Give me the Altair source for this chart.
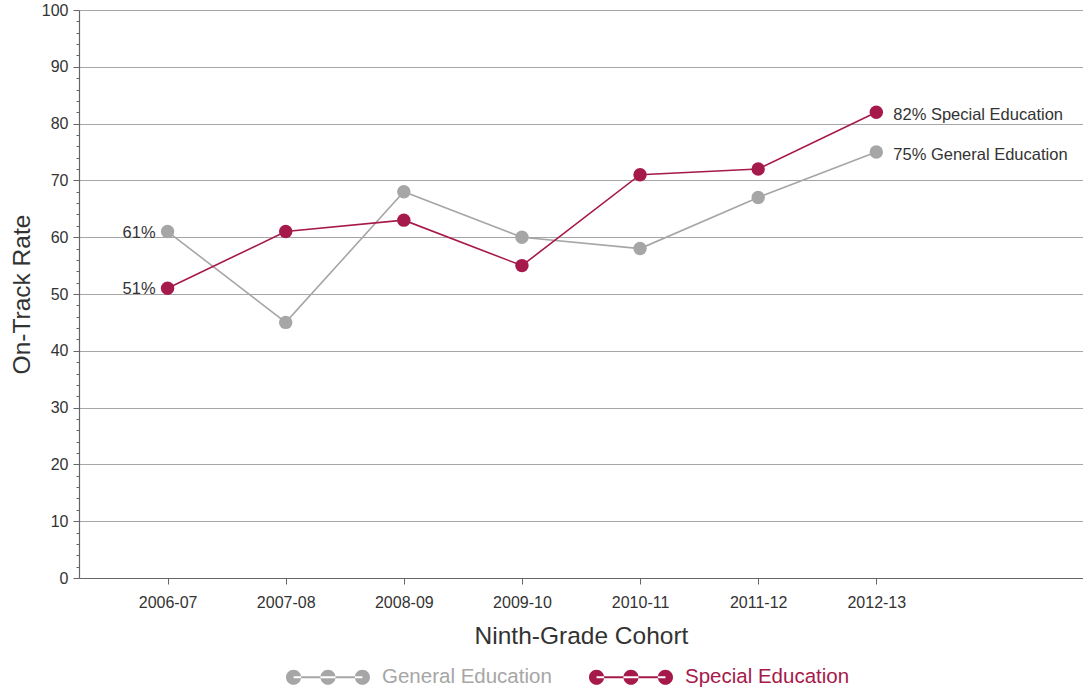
import json
import altair as alt
import pandas as pd

cohorts = ["2006-07", "2007-08", "2008-09", "2009-10", "2010-11", "2011-12", "2012-13"]
general = [61, 45, 68, 60, 58, 67, 75]
special = [51, 61, 63, 55, 71, 72, 82]
series_names = ["General Education", "Special Education"]
colors = ["#a6a6a6", "#a6194b"]

rows = []
for i, c in enumerate(cohorts):
    rows.append(dict(idx=i, cohort=c, series=series_names[0], value=general[i]))
    rows.append(dict(idx=i, cohort=c, series=series_names[1], value=special[i]))
df = pd.DataFrame(rows)

first = df[df.idx == 0].copy()
first["label"] = first["value"].astype(str) + "%"
last = df[df.idx == len(cohorts) - 1].copy()
last["label"] = last["value"].astype(str) + "% " + last["series"]

# legend symbol: line with three dots
r = 0.18
def circ(cx):
    return f"M{cx - r},0A{r},{r},0,1,0,{cx + r},0A{r},{r},0,1,0,{cx - r},0Z"
sym_path = "M-0.82,-0.024L0.82,-0.024L0.82,0.024L-0.82,0.024Z" + circ(-0.82) + circ(0) + circ(0.82)

label_expr = json.dumps(cohorts) + "[datum.value]"

x = alt.X(
    "idx:Q",
    scale=alt.Scale(domain=[-0.75, 7.75], nice=False, zero=False),
    axis=alt.Axis(
        values=list(range(len(cohorts))),
        tickCount=100,
        labelExpr=label_expr,
        grid=False,
        tickSize=6,
        labelPadding=10,
        titlePadding=14,
        labelFontSize=16,
        title="Ninth-Grade Cohort",
    ),
)
y = alt.Y(
    "value:Q",
    scale=alt.Scale(domain=[0, 100], nice=False),
    axis=alt.Axis(
        values=list(range(0, 101, 2)),
        tickCount=200,
        format="d",
        labelExpr="datum.value % 10 === 0 ? datum.label : ''",
        labelOverlap=False,
        labelFlush=False,
        tickSize={"condition": {"test": "datum.value % 10 === 0", "value": 6}, "value": 3},
        gridOpacity={"condition": {"test": "datum.value % 10 === 0 && datum.value > 0", "value": 1}, "value": 0},
        labelPadding=5,
        labelFontSize=16,
        titlePadding=7,
        title="On-Track Rate",
    ),
)

legend = alt.Legend(
    title=None,
    orient="none",
    legendX=207,
    legendY=625,
    direction="horizontal",
    symbolType=sym_path,
    symbolSize=7056,
    symbolStrokeWidth=0,
    symbolOpacity=1,
    labelFontSize=20.5,
    labelOffset=12,
    labelLimit=400,
    columnPadding=37,
    labelColor=alt.ExprRef(expr=f"datum.label === '{series_names[0]}' ? '{colors[0]}' : '{colors[1]}'"),
)
color = alt.Color("series:N", scale=alt.Scale(domain=series_names, range=colors), legend=legend)

base = alt.Chart(df)
lines = base.mark_line(strokeWidth=1.6).encode(x=x, y=y, color=color, detail="series:N")
points = base.mark_point(filled=True, size=180, opacity=1).encode(x=x, y=y, color=color)

left_text = alt.Chart(first).mark_text(align="right", baseline="middle", dx=-12, dy=1, fontSize=16.5, color="#333333").encode(
    x="idx:Q", y="value:Q", text="label:N"
)
right_text = alt.Chart(last).mark_text(align="left", baseline="middle", dx=17, dy=3, fontSize=16.5, color="#333333").encode(
    x="idx:Q", y="value:Q", text="label:N"
)

chart = alt.layer(lines, points, left_text, right_text).properties(
    width=1004,
    height=568,
    autosize=alt.AutoSizeParams(type="none"),
    padding={"left": 79, "top": 10, "right": 0, "bottom": 113},
).configure(
    font="Liberation Sans",
).configure_view(
    stroke=None,
).configure_axis(
    labelFont="Liberation Sans",
    titleFont="Liberation Sans",
    labelColor="#333333",
    titleFontSize=24.5,
    titleFontWeight="normal",
    titleColor="#333333",
    domainColor="#666666",
    domainWidth=1.2,
    tickColor="#666666",
    gridColor="#a6a6a6",
    gridWidth=1,
).configure_legend(
    labelFont="Liberation Sans",
)

chart.save("out.html", embed_options={"renderer": "svg", "actions": False})
